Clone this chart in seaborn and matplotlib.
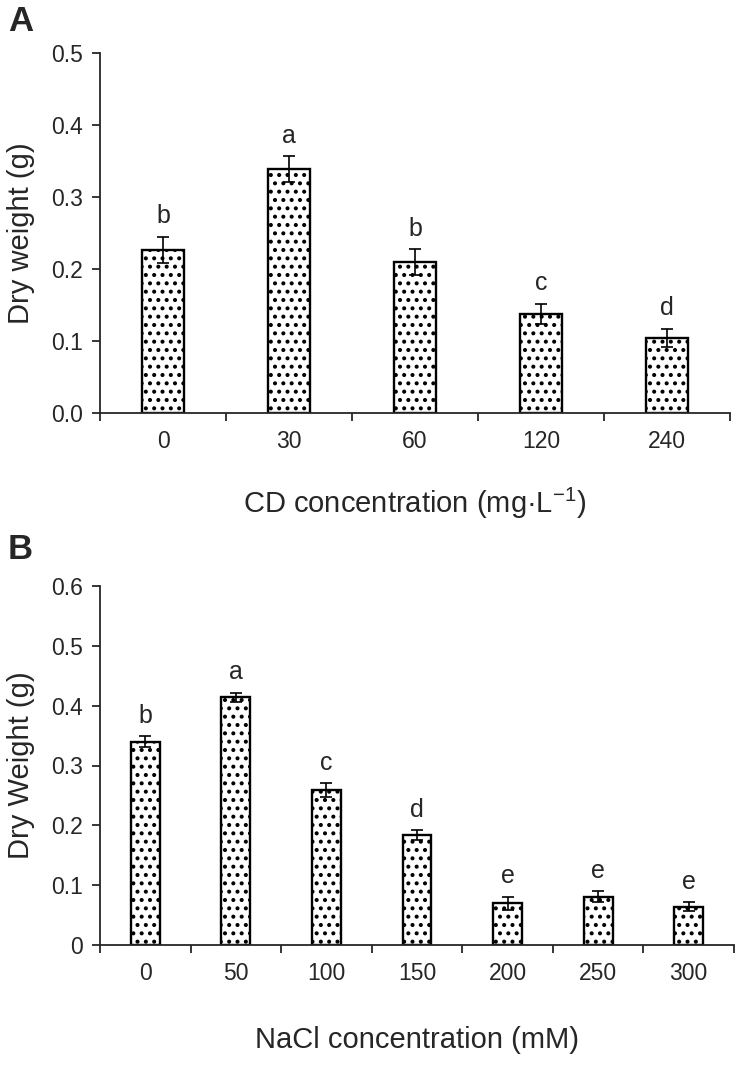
import matplotlib
matplotlib.use("Agg")
import matplotlib.pyplot as plt
import numpy as np
import seaborn as sns

# Panel A data (CD treatment)
cd_conc = ['0', '30', '60', '120', '240']
cd_weight = [0.227, 0.339, 0.210, 0.138, 0.104]
cd_err = [0.018, 0.018, 0.018, 0.014, 0.013]
cd_letters = ['b', 'a', 'b', 'c', 'd']
cd_yticks = [0.0, 0.1, 0.2, 0.3, 0.4, 0.5]
cd_yticklabels = ['0.0', '0.1', '0.2', '0.3', '0.4', '0.5']

# Panel B data (NaCl treatment)
nacl_conc = ['0', '50', '100', '150', '200', '250', '300']
nacl_weight = [0.340, 0.414, 0.259, 0.184, 0.070, 0.081, 0.064]
nacl_err = [0.009, 0.008, 0.011, 0.008, 0.011, 0.009, 0.008]
nacl_letters = ['b', 'a', 'c', 'd', 'e', 'e', 'e']
nacl_yticks = [0.0, 0.1, 0.2, 0.3, 0.4, 0.5, 0.6]
nacl_yticklabels = ['0', '0.1', '0.2', '0.3', '0.4', '0.5', '0.6']

sns.set_style("ticks")
plt.rcParams['font.family'] = ['Liberation Sans', 'DejaVu Sans']
plt.rcParams['mathtext.default'] = 'regular'
plt.rcParams['hatch.linewidth'] = 1.7
plt.rcParams['hatch.color'] = 'black'

W, H = 738, 1070
fig = plt.figure(figsize=(W / 100, H / 100), dpi=100)
axA = fig.add_axes([100 / W, 1 - 413 / H, 630 / W, 360 / H])
axB = fig.add_axes([100 / W, 1 - 945 / H, 634 / W, 359 / H])


def draw_panel(ax, cats, vals, errs, letters, yticks, yticklabels, bar_w, xlabel, ylabel, xpad):
    sns.barplot(x=cats, y=vals, order=cats, ax=ax, color='white', saturation=1,
                edgecolor='black', linewidth=1.7, hatch='..', width=bar_w, errorbar=None)
    xs = [p.get_x() + p.get_width() / 2 for p in ax.patches]
    ax.errorbar(xs, vals, yerr=errs, fmt='none', ecolor='black',
                elinewidth=1.2, capsize=4, capthick=1.2)
    for x, v, e, t in zip(xs, vals, errs, letters):
        ax.annotate(t, (x, v + e), xytext=(0, 6), textcoords='offset points',
                    ha='center', va='bottom', fontsize=18)
    n = len(cats)
    ax.set_xlim(-0.5, n - 0.5)
    ax.set_ylim(yticks[0], yticks[-1])
    ax.set_yticks(yticks)
    ax.set_yticklabels(yticklabels)
    ax.set_xticks(np.arange(n + 1) - 0.5, minor=True)
    ax.tick_params(axis='x', which='major', length=0, pad=12, labelsize=16.5)
    ax.tick_params(axis='x', which='minor', length=6, width=1.3, direction='out')
    ax.tick_params(axis='y', length=6, width=1.3, direction='out', pad=6, labelsize=16.5)
    for s in ['top', 'right']:
        ax.spines[s].set_visible(False)
    for s in ['left', 'bottom']:
        ax.spines[s].set_linewidth(1.3)
    ax.set_xlabel(xlabel, fontsize=21, labelpad=xpad)
    ax.set_ylabel(ylabel, fontsize=21, labelpad=12)


draw_panel(axA, cd_conc, cd_weight, cd_err, cd_letters, cd_yticks, cd_yticklabels,
           0.33, 'CD concentration (mg·L$^{-1}$)', 'Dry weight (g)', 24)
draw_panel(axB, nacl_conc, nacl_weight, nacl_err, nacl_letters, nacl_yticks, nacl_yticklabels,
           0.32, 'NaCl concentration (mM)', 'Dry Weight (g)', 30)

fig.text(8 / W, 1 - 5 / H, 'A', fontsize=25, fontweight='bold', va='top', ha='left')
fig.text(8 / W, 1 - 533 / H, 'B', fontsize=25, fontweight='bold', va='top', ha='left')

fig.savefig('out.png', dpi=100)
